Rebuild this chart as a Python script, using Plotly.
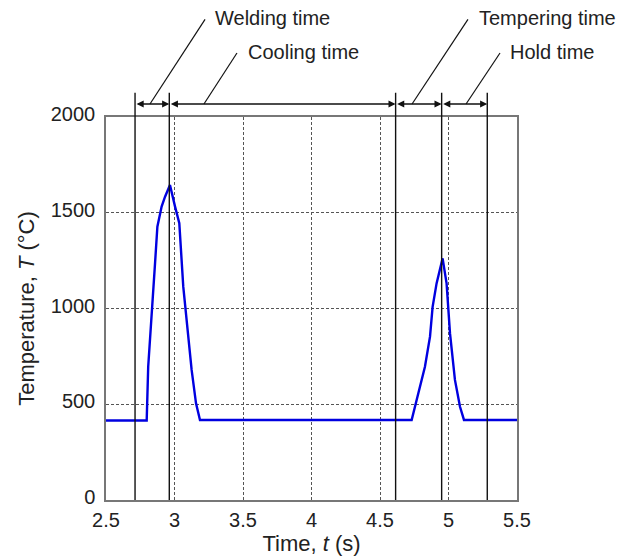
import plotly.graph_objects as go

# Temperature history (time s, temperature °C)
time_s = [2.5, 2.797, 2.808, 2.833, 2.858, 2.875, 2.906, 2.931, 2.967,
          3.004, 3.035, 3.064, 3.089, 3.125, 3.157, 3.186,
          4.731, 4.792, 4.828, 4.865, 4.884, 4.913, 4.957,
          4.986, 5.011, 5.047, 5.084, 5.113, 5.5]
temp_c = [415, 415, 696, 995, 1237, 1427, 1532, 1584, 1645,
          1532, 1445, 1114, 940, 679, 505, 418,
          418, 592, 696, 853, 1009, 1131, 1262,
          1131, 870, 627, 487, 418, 418]

# Phase boundaries (s)
boundaries = [2.712, 2.962, 4.614, 4.95, 5.283]
phase_labels = ["Welding time", "Cooling time", "Tempering time", "Hold time"]
# label anchor positions (data x of label start, paper y) and leader start x
label_x = [3.281, 3.522, 5.208, 5.434]
label_y = [1.258, 1.170, 1.258, 1.170]
leader_x0 = [2.821, 3.215, 4.734, 5.128]
leader_x1 = [3.223, 3.456, 5.142, 5.376]

x_ticks = [2.5, 3, 3.5, 4, 4.5, 5, 5.5]
x_ticktext = ["2.5", "3", "3.5", "4", "4.5", "5", "5.5"]
y_ticks = [0, 500, 1000, 1500, 2000]

FONT = "Liberation Sans, Arial, sans-serif"

fig = go.Figure()
fig.add_trace(go.Scatter(x=time_s, y=temp_c, mode="lines",
                         line=dict(color="#0000e0", width=2.4),
                         showlegend=False, hoverinfo="skip"))

shapes = []
arrow_y = 1.034
for b in boundaries:
    shapes.append(dict(type="line", xref="x", yref="paper", x0=b, x1=b,
                       y0=0, y1=1.063, line=dict(color="#111", width=1.4),
                       layer="above"))
for i in range(4):
    shapes.append(dict(type="line", xref="x", yref="paper",
                       x0=leader_x0[i], x1=leader_x1[i], y0=arrow_y, y1=label_y[i] - 0.003,
                       line=dict(color="#111", width=1.2)))

annotations = []
for i in range(4):
    a, b = boundaries[i], boundaries[i + 1]
    annotations.append(dict(x=b, y=arrow_y, xref="x", yref="paper",
                            ax=a, ay=0, axref="x", ayref="pixel",
                            showarrow=True, arrowhead=2, arrowside="end+start",
                            arrowsize=1.1, arrowwidth=1.3, arrowcolor="#111",
                            text="", standoff=0, startstandoff=0))
    annotations.append(dict(x=label_x[i], y=label_y[i], xref="x", yref="paper",
                            text=phase_labels[i], showarrow=False,
                            xanchor="left", yanchor="middle",
                            font=dict(size=20, color="#222", family=FONT)))

fig.update_layout(
    width=621, height=559,
    margin=dict(l=106, r=104, t=117, b=59),
    paper_bgcolor="white", plot_bgcolor="white",
    font=dict(family=FONT, color="#222", size=20),
    shapes=shapes, annotations=annotations,
    xaxis=dict(range=[2.5, 5.5], tickvals=x_ticks, ticktext=x_ticktext,
               showgrid=True, gridcolor="#555", griddash="3px,2px", gridwidth=1,
               showline=True, mirror=True, linecolor="#777", linewidth=1.5,
               zeroline=False, ticks="", ticklen=0, ticklabelstandoff=1,
               title=dict(text="Time, <i>t</i> (s)", font=dict(size=22), standoff=2),
               tickfont=dict(size=20)),
    yaxis=dict(range=[0, 2000], tickvals=y_ticks,
               showgrid=True, gridcolor="#555", griddash="3px,2px", gridwidth=1,
               showline=True, mirror=True, linecolor="#777", linewidth=1.5,
               zeroline=False, ticks="", ticklen=0, ticklabelstandoff=5,
               ticklabelshift=-3,
               title=dict(text="Temperature, <i>T</i> (°C)", font=dict(size=22), standoff=10),
               tickfont=dict(size=20)),
)

fig.write_html("out.html")
